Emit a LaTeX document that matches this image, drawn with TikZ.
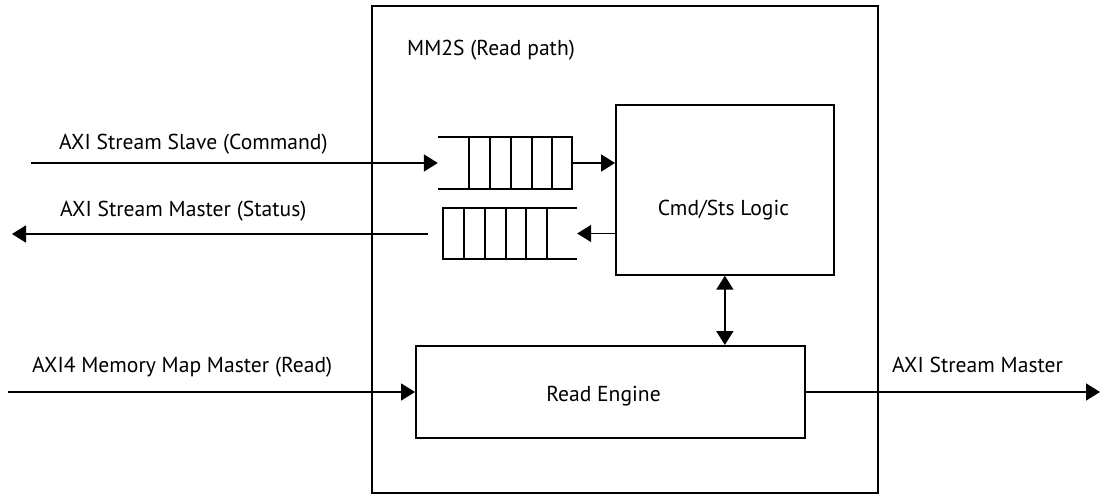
\documentclass[tikz,border=0pt]{standalone}
\usepackage{fontspec}
\setmainfont{PT Sans}
\usetikzlibrary{arrows.meta}

\tikzset{
  wire/.style={line width=1.7pt},
  arr/.style={wire, -{Triangle[length=14pt,width=17pt]}},
  biarr/.style={wire, {Triangle[length=14pt,width=17pt]}-{Triangle[length=14pt,width=17pt]}},
  blk/.style={draw, line width=1.7pt, rectangle, inner sep=0pt, anchor=north west},
  slot/.style={rectangle, inner sep=0pt, minimum height=52pt},
  txt/.style={inner sep=0pt, font=\fontsize{21.6}{24}\selectfont},
}

\begin{document}
\begin{tikzpicture}[x=1pt, y=-1pt]
\useasboundingbox (0,0) rectangle (1111,497);

% main blocks
\node[blk, minimum width=506pt, minimum height=487pt] (mm2s) at (371,5) {};
\node[blk, minimum width=218pt, minimum height=170pt] (cmd) at (615,104) {};
\node[blk, minimum width=389pt, minimum height=92pt] (eng) at (415,345) {};

% command FIFO (open on the input side)
\node[slot, minimum width=134pt] (fifoA) at (505,163) {};
\draw[wire] (fifoA.north west) -- (fifoA.north east) -- (fifoA.south east) -- (fifoA.south west);
\foreach \x in {469,490,511,532,552}
  \draw[wire] (\x,0 |- fifoA.north) -- (\x,0 |- fifoA.south);

% status FIFO (open on the input side)
\node[slot, minimum width=134pt, minimum height=51pt] (fifoB) at (510,233.5) {};
\draw[wire] (fifoB.north east) -- (fifoB.north west) -- (fifoB.south west) -- (fifoB.south east);
\foreach \x in {464,485,506,526,547}
  \draw[wire] (\x,0 |- fifoB.north) -- (\x,0 |- fifoB.south);

% free ends of the external ports
\coordinate (cmdin) at (31,163);
\coordinate (stsout0) at (428,234);
\coordinate (stsout) at (12,234);
\coordinate (mmin) at (8,392);
\coordinate (axisout) at (1100,392);

% connectors
\draw[arr] (cmdin) -- (fifoA.west);
\draw[arr] (fifoA.east) -- (fifoA.east -| cmd.west);
\draw[arr] (fifoB.east -| cmd.west) -- (fifoB.east);
\draw[arr] (stsout0) -- (stsout);
\draw[arr] (mmin) -- (mmin -| eng.west);
\draw[arr] (axisout -| eng.east) -- (axisout);
\draw[biarr] (cmd.south) -- (cmd.south |- eng.north);

% labels
\node[txt, anchor=base west] (ttl) at (407,56) {MM2S (Read path)};
\node[txt, anchor=base] (cmdlbl) at (723.5,215) {Cmd/Sts Logic};
\node[txt, anchor=base] (englbl) at (603.5,401) {Read Engine};
\node[txt, anchor=base west] (l1) at (59,150) {AXI Stream Slave (Command)};
\node[txt, anchor=base west] (l2) at (60,217) {AXI Stream Master (Status)};
\node[txt, anchor=base west] (l3) at (32,372) {AXI4 Memory Map Master (Read)};
\node[txt, anchor=base west] (l4) at (892,372) {AXI Stream Master};
\end{tikzpicture}
\end{document}
